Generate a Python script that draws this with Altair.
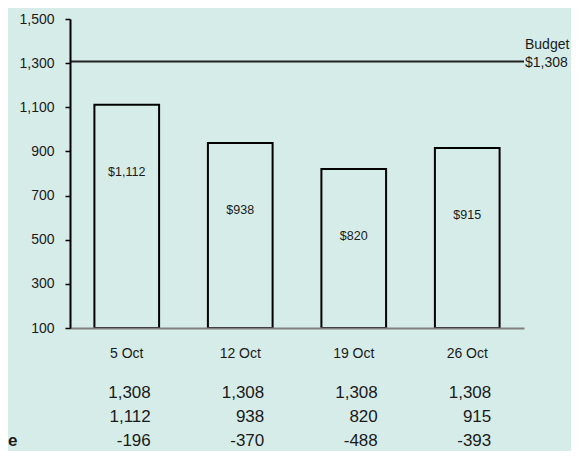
import altair as alt
import pandas as pd

weeks = ["5 Oct", "12 Oct", "19 Oct", "26 Oct"]
budget = [1308, 1308, 1308, 1308]
actual = [1112, 938, 820, 915]
variance = [-196, -370, -488, -393]
row_names = ["Budget", "Actual", "Variance"]
row_stub = ["", "", "e"]          # only the tail of the row label is visible
y_ticks = [100, 300, 500, 700, 900, 1100, 1300, 1500]
budget_level = 1308
budget_title = "Budget"

BG = "#d6ece8"
FONT = "Liberation Sans"
TXT = "#1a1a1a"

bars_df = pd.DataFrame({
    "week": weeks,
    "actual": actual,
    "label": ["$" + f"{v:,}" for v in actual],
})
table_df = pd.DataFrame({
    "week": weeks * 3,
    "row": [r for r in row_names for _ in weeks],
    "value": budget + actual + variance,
})
table_df["text"] = table_df["value"].map(lambda v: f"{v:,}")
stub_df = pd.DataFrame({"row": row_names, "stub": row_stub})

x_enc = alt.X(
    "week:N", sort=weeks,
    scale=alt.Scale(paddingInner=0.43, paddingOuter=0.215),
    axis=alt.Axis(title=None, labelAngle=0, ticks=False, tickSize=0,
                  labelPadding=25, labelBaseline="middle",
                  domainColor="#808080", domainWidth=2, zindex=1,
                  labelFontSize=14, labelFont=FONT, labelColor=TXT),
)
y_scale = alt.Scale(domain=[100, 1500], nice=False, zero=False)
y_enc = alt.Y(
    "actual:Q", scale=y_scale,
    axis=alt.Axis(title=None, values=y_ticks, format=",.0f", grid=False,
                  domainColor="black", domainWidth=2, zindex=1,
                  tickColor="black", tickWidth=1.5, tickSize=5,
                  labelPadding=11, labelFontSize=14, labelFont=FONT,
                  labelColor=TXT),
)

base = alt.Chart(bars_df)
bars = base.mark_bar(fill=BG, stroke="black", strokeWidth=2).encode(
    x=x_enc, y=y_enc, y2=alt.datum(100)
)
bar_labels = base.mark_text(font=FONT, fontSize=12.5, color=TXT, dy=67,
                            baseline="middle").encode(
    x=alt.X("week:N", sort=weeks), y=alt.Y("actual:Q", scale=y_scale), text="label:N"
)
rule = alt.Chart(pd.DataFrame({"b": [budget_level]})).mark_rule(
    color="#222", strokeWidth=2
).encode(y=alt.Y("b:Q", scale=y_scale))
budget_val = alt.Chart(pd.DataFrame({"b": [budget_level], "t": ["$" + f"{budget_level:,}"]})).mark_text(
    font=FONT, fontSize=14, color=TXT, align="left", baseline="middle", dx=1, dy=2
).encode(x=alt.value(454), y=alt.Y("b:Q", scale=y_scale), text="t:N")
budget_name = alt.Chart(pd.DataFrame({"b": [budget_level], "t": [budget_title]})).mark_text(
    font=FONT, fontSize=14, color=TXT, align="left", baseline="middle", dx=1, dy=-16
).encode(x=alt.value(454), y=alt.Y("b:Q", scale=y_scale), text="t:N")

top = alt.layer(bars, rule, bar_labels, budget_val, budget_name)

row_scale = alt.Scale(domain=row_names, range=[374, 422], padding=0)
table = alt.Chart(table_df).mark_text(
    font=FONT, fontSize=17, color=TXT, align="right", baseline="middle", dx=24
).encode(
    x=alt.X("week:N", sort=weeks),
    y=alt.Y("row:N", scale=row_scale, axis=None),
    text="text:N",
)
stubs = alt.Chart(stub_df).mark_text(
    font=FONT, fontSize=17, fontWeight="bold", color=TXT, align="left", baseline="middle"
).encode(
    x=alt.value(-62),
    y=alt.Y("row:N", scale=row_scale, axis=None),
    text="stub:N",
)
bottom = alt.layer(table, stubs)

chart = alt.layer(top, bottom).resolve_scale(y="independent").properties(
    width=454, height=309,
    autosize=alt.AutoSizeParams(type="none"),
    padding={"left": 62, "top": 11, "right": 47, "bottom": 123},
    background=BG,
).configure_view(stroke=None)

chart.save("out.html", embed_options={"renderer": "svg", "actions": False})
